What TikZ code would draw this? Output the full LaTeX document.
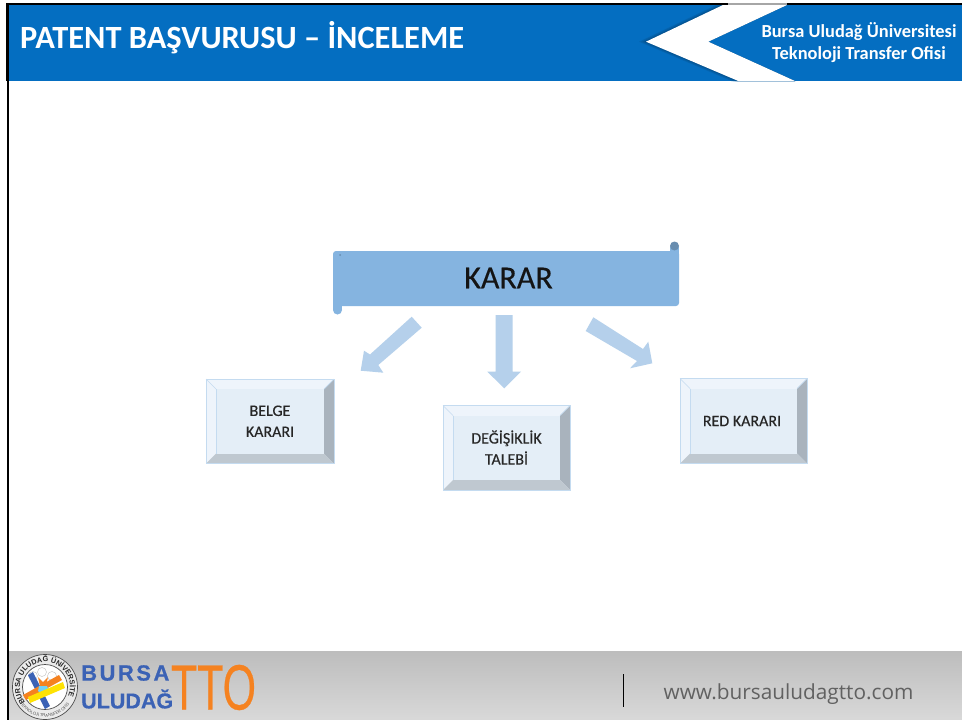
\documentclass[tikz,border=0pt]{standalone}
\usepackage{fontspec}
\setmainfont{Carlito}
\newfontfamily\opensans{Open Sans}
\newfontfamily\heros{Liberation Sans}
\newfontfamily\heavyheros[FakeBold=0.6]{Liberation Sans Bold}
\newfontfamily\ttofont[FakeBold=0.5]{Liberation Sans}
\newfontfamily\medfont[FakeBold=0.35]{Carlito}
\usetikzlibrary{decorations.text,shadings}
\definecolor{hdrblue}{HTML}{046EC1}
\definecolor{scrollblue}{HTML}{85B4E0}
\definecolor{arrowblue}{HTML}{B5D0EB}
\definecolor{bevface}{HTML}{E4EEF7}
\definecolor{bevlight}{HTML}{EEF4FB}
\definecolor{bevright}{HTML}{A9B3BD}
\definecolor{bevbottom}{HTML}{BFC8D0}
\definecolor{bevedge}{HTML}{C4DBF0}
\definecolor{logoblue}{HTML}{3B62B5}
\definecolor{ttoorange}{HTML}{F58220}
\tikzset{
  blockarrow/.style={fill=arrowblue,draw=none},
  boxlabel/.style={font=\medfont\fontsize{16}{21}\selectfont,text=black!85,align=center,inner sep=0pt},
}
% name, x0,y0,x1,y1
\newcommand{\bevelbox}[5]{%
  \fill[bevlight] (#2,#3) rectangle (#4,#5);
  \fill[bevright] (#4,#3) -- (#4-10,#3+10) -- (#4-10,#5-10) -- (#4,#5) -- cycle;
  \fill[bevbottom] (#2,#5) -- (#2+10,#5-10) -- (#4-10,#5-10) -- (#4,#5) -- cycle;
  \draw[bevedge,line width=0.7pt] (#2,#3) -- (#2+10,#3+10) (#4,#3) -- (#4-10,#3+10);
  \fill[bevface] (#2+10,#3+10) rectangle (#4-10,#5-10);
  \draw[bevedge,line width=0.4pt] (#2+10,#3+10) -- (#2+10,#5-10);
  \draw[bevedge,line width=0.8pt] (#2,#3) rectangle (#4,#5);
  \coordinate (#1) at ({(#2+#4)/2},{(#3+#5)/2});
}
\begin{document}
\begin{tikzpicture}[x=1pt,y=-1pt]
\useasboundingbox (0,0) rectangle (962,720);
\fill[white] (0,0) rectangle (962,720);
% header
\fill[hdrblue] (9,5) rectangle (962,81);
\fill[black] (6,2.5) rectangle (962,5);
\fill[black!35] (728,2.5) rectangle (787,5);
\fill[black] (6,2.5) rectangle (9,81);
\fill[black] (7,81) rectangle (9,720);
% chevron with soft shadow
\foreach \o/\c in {7/8,5/14,3/20,1.5/26}{
  \fill[black!\c!hdrblue] (723-\o,5) -- (787,5) -- (708.3,41.7) -- (795,81) -- (738.3-\o,81) -- (646-\o,41.7) -- cycle;
}
\fill[white] (723,5) -- (787,5) -- (708.3,41.7) -- (795,81) -- (738.3,81) -- (646,41.7) -- cycle;
\node[text=white,anchor=west,inner sep=0pt,font=\fontsize{32.4}{32}\selectfont\bfseries] (title) at (20,38) {PATENT BAŞVURUSU – İNCELEME};
\node[text=white,align=center,inner sep=0pt,font=\fontsize{18.4}{22}\selectfont\bfseries] (org) at (859,43) {Bursa Uludağ Üniversitesi\\Teknoloji Transfer Ofisi};
% footer
\shade[top color=black!26,bottom color=black!15] (9,651) rectangle (962,720);
\draw[black,line width=0.8pt] (623.5,674) -- (623.5,707);
\node[text=black!62,inner sep=0pt,font=\opensans\fontsize{20.8}{20}\selectfont] (web) at (788.5,694) {www.bursauludagtto.com};
% logo
\begin{scope}
\fill[white!92!black] (45,687) circle (32.5);
\draw[black!70,line width=0.7pt] (45,687) circle (32.5);
\fill[white] (45,687) circle (22.5);
\draw[black!70,line width=0.7pt] (45,687) circle (22.5);
\draw[black!25,fill=white] (42,672) circle (4.5) (33,676) circle (4.5) (52,676) circle (4.5);
\fill[logoblue] (28,675) -- (33,672) -- (50,706) -- (45,709) -- cycle;
\fill[ttoorange] (23,695) -- (26,700) -- (62,680) -- (59,675) -- cycle;
\fill[ttoorange] (38,677) -- (43,682) -- (48,677) -- (46,686) -- (40,686) -- cycle;
\fill[cyan!55!white] (39,686) -- (47,686) -- (49,691) -- (43,695) -- (38,691) -- cycle;
\fill[yellow!85!orange] (28,697) -- (30,703) -- (65,688) -- (63,682) -- cycle;
\begin{scope}[shift={(45,687)},y=1pt]
\path[decorate,decoration={text along path,text align=center,
  text={|\heros\fontsize{7.3}{7.3}\selectfont\bfseries\color{black!85}|BURSA ULUDAĞ ÜNİVERSİTESİ}}]
  (205:25) arc[start angle=205,end angle=-25,radius=25];
\path[decorate,decoration={text along path,text align=center,
  text={|\heros\fontsize{4.2}{4.2}\selectfont\color{black!70}|TEKNOLOJİ TRANSFER OFİSİ}}]
  (218:30) arc[start angle=218,end angle=322,radius=30];
\end{scope}
\end{scope}
\node[text=logoblue,anchor=west,inner sep=0pt,font=\heavyheros\fontsize{22}{22}\selectfont] (bursa) at (81,673) {B\kern2.5pt U\kern2.5pt R\kern2.5pt S\kern2.5pt A};
\node[text=logoblue,anchor=west,inner sep=0pt,font=\heavyheros\fontsize{21.5}{22}\selectfont] (uludag) at (81,699) {ULUDAĞ};
\node[text=ttoorange,inner sep=0pt,font=\ttofont\fontsize{64}{64}\selectfont,xscale=0.67,transform shape] (tto) at (213.5,687.5) {TTO};
% scroll
\fill[scrollblue,rounded corners=3pt] (333,251) rectangle (679,306);
\fill[scrollblue] (333,300) rectangle (342,310);
\fill[scrollblue] (337.5,310) circle (4.5);
\fill[scrollblue] (670,247) rectangle (679,255);
\fill[scrollblue!78!black] (674.5,246) circle (4.5);
\fill[scrollblue!78!black] (340,255) circle (1);
\node[text=black!92,inner sep=0pt,font=\medfont\fontsize{32}{32}\selectfont] (karar) at (508.5,278) {KARAR};
% boxes
\bevelbox{belgeC}{206}{379}{334}{463.5}
\bevelbox{degisC}{443}{405.5}{570}{490}
\bevelbox{redC}{680}{378.5}{807}{463.5}
\node[boxlabel] (belge) at (belgeC) {BELGE\\KARARI};
\node[boxlabel] (degis) at (506.5,447.5) {DEĞİŞİKLİK\\TALEBİ};
\node[boxlabel] (red) at (742,421) {RED KARARI};
% block arrows
\fill[blockarrow] (411.7,316.7) -- (421.7,327.7) -- (378.3,365) -- (383.3,372.7) -- (360.7,370.7) -- (364,350.7) -- (370,354.5) -- cycle;
\fill[blockarrow] (495.7,315) -- (512.7,315) -- (512.7,371.7) -- (521,371.7) -- (504.3,388.3) -- (487.3,371.7) -- (495.7,371.7) -- cycle;
\fill[blockarrow] (593.3,317.3) -- (585.7,331) -- (637,361) -- (630,368.3) -- (652.3,363.3) -- (648.3,341.7) -- (643,349) -- cycle;
\end{tikzpicture}
\end{document}
